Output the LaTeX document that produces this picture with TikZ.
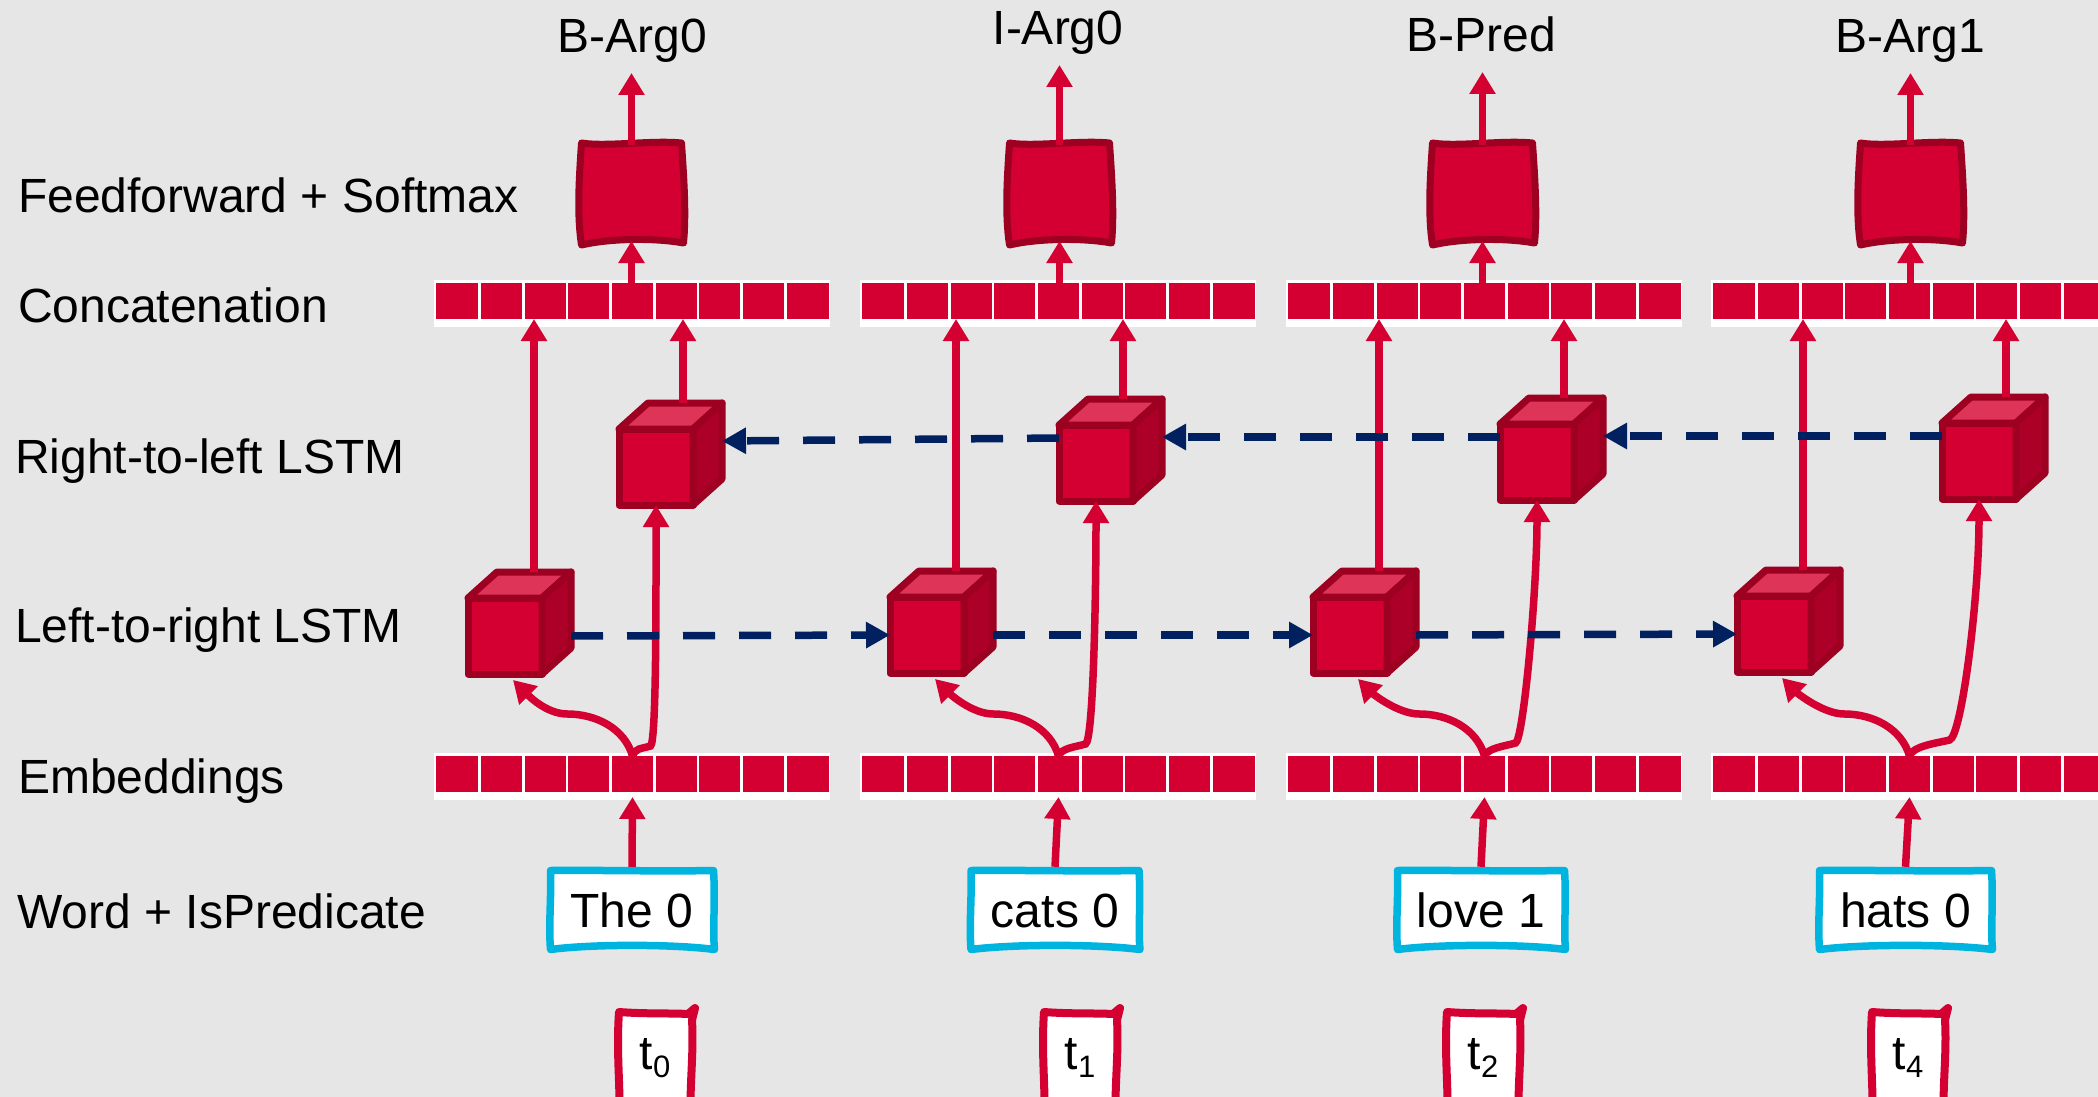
\documentclass[tikz,border=0pt]{standalone}
\usepackage{fontspec}
\setmainfont{Liberation Sans}
\usetikzlibrary{arrows.meta,calc}
\pgfdeclarelayer{behind}
\pgfsetlayers{behind,main}
\definecolor{bgc}{RGB}{230,230,230}
\definecolor{rfill}{RGB}{212,0,50}
\definecolor{rdark}{RGB}{158,0,34}
\definecolor{rside}{RGB}{172,0,40}
\definecolor{rtop}{RGB}{222,52,88}
\definecolor{navy}{RGB}{0,32,96}
\definecolor{cyanb}{RGB}{0,180,224}
\tikzset{
 redarrow/.style={draw=rfill, line width=7.5pt, -{Triangle[length=22pt,width=25pt]}},
 navyarrow/.style={draw=navy, line width=7.5pt, dash pattern=on 32pt off 24pt, -{Triangle[length=24pt,width=25pt]}},
 sidelbl/.style={font=\fontsize{48}{56}\selectfont, anchor=base west, inner sep=0pt},
 toplbl/.style={font=\fontsize{48}{56}\selectfont, anchor=base, inner sep=0pt},
 barcells/.style={fill=rfill, draw=none, minimum width=393pt, minimum height=36pt, inner sep=0pt, outer sep=0pt},
 cubefront/.style={fill=rfill, draw=rdark, line width=7pt, minimum width=74pt, minimum height=76pt, inner sep=0pt, outer sep=0pt, line join=round},
 cubetop/.style={fill=rtop, draw=rdark, line width=7pt, line join=round},
 cubeside/.style={fill=rside, draw=rdark, line width=7pt, line join=round},
 ffnode/.style={minimum width=100pt, minimum height=96pt, inner sep=0pt, outer sep=0pt},
 ffframe/.style={fill=rfill, draw=rdark, line width=7pt, line join=round},
 wordtext/.style={font=\fontsize{48}{56}\selectfont, text height=35pt, text depth=0pt, inner sep=0pt, minimum height=86pt},
 wordframe/.style={fill=white, draw=cyanb, line width=7.5pt, line join=round},
 ttext/.style={font=\fontsize{48}{56}\selectfont, inner sep=0pt},
 tframe/.style={fill=white, draw=rfill, line width=8pt, line join=round},
}
\newcommand\drawbar[3]{%
  \fill[white] (#2,#3-3) rectangle (#2+396,#3+44);
  \node[barcells] (#1) at (#2+198.5,#3+18) {};
  \foreach \k in {1,...,8} {\fill[white] (#2+2+\k*43.67-1.3,#3) rectangle ++(2.6,36);}
}
\newcommand\drawcube[3]{%
  \node[cubefront] (#1) at (#2,#3) {};
  \filldraw[cubetop] (#1.north west) -- (#1.north east) -- ++(29,-26) -- ($(#1.north west)+(29,-26)$) -- cycle;
  \filldraw[cubeside] (#1.north east) -- (#1.south east) -- ++(29,-26) -- ($(#1.north east)+(29,-26)$) -- cycle;
}
\newcommand\ffbox[3]{%
  \node[ffnode] (#1) at (#2,#3) {};
  \filldraw[ffframe, shift={(#1.center)}] (-50,-50) .. controls (-25,-46) and (20,-53) .. (50,-50)
    .. controls (52,-20) and (55,20) .. (52,50) .. controls (25,45) and (-20,45) .. (-50,52)
    .. controls (-55,20) and (-52,-20) .. cycle;
}
\newcommand\wordbox[4]{%
  \node[wordtext] (#1) at (#2,910) {#3};
  \begin{pgfonlayer}{behind}
  \filldraw[wordframe, shift={(#1.center)}] (-#4,-39.5) .. controls (-#4/3,-40) and (#4/3,-38.5) .. (#4,-39.5)
    .. controls (#4+2,-10) and (#4-1,20) .. (#4+1,39.5) .. controls (#4/2,34) and (-#4/2,34) .. (-#4,39.5)
    .. controls (-#4-2,15) and (-#4+1,-15) .. cycle;
  \end{pgfonlayer}
}
\newcommand\tbox[3]{%
  \node[ttext] (#1) at (#2,1058) {t\raisebox{-8pt}{\fontsize{31}{31}\selectfont #3}};
  \begin{pgfonlayer}{behind}
  \filldraw[tframe, shift={(#2,1060)}] (-36,-48) .. controls (-10,-46) and (15,-47) .. (33,-46) -- (40,-52) -- (37,-40)
    .. controls (39,-5) and (34,30) .. (36,60) -- (-36,60) .. controls (-34,30) and (-39,-5) .. cycle;
  \end{pgfonlayer}
}
\begin{document}
\begin{tikzpicture}[x=1pt,y=-1pt]
\useasboundingbox (0,0) rectangle (2098,1097);
\begin{pgfonlayer}{behind}
\fill[bgc] (0,0) rectangle (2098,1097);
\end{pgfonlayer}

% side labels
\node[sidelbl] (s1) at (18,212) {Feedforward + Softmax};
\node[sidelbl] (s2) at (18,322) {Concatenation};
\node[sidelbl] (s3) at (15,473) {Right-to-left LSTM};
\node[sidelbl] (s4) at (15,642) {Left-to-right LSTM};
\node[sidelbl] (s5) at (18,793) {Embeddings};
\node[sidelbl] (s6) at (17,928) {Word + IsPredicate};

% bars
\drawbar{c1}{434}{283}
\drawbar{c2}{860}{283}
\drawbar{c3}{1286}{283}
\drawbar{c4}{1711}{283}
\drawbar{e1}{434}{756}
\drawbar{e2}{860}{756}
\drawbar{e3}{1286}{756}
\drawbar{e4}{1711}{756}

% feedforward boxes
\ffbox{f1}{631.5}{193}
\ffbox{f2}{1059.5}{193}
\ffbox{f3}{1482.5}{193}
\ffbox{f4}{1910.5}{193}

% output labels
\node[toplbl] (o1) at (632,53) {B-Arg0};
\node[toplbl] (o2) at (1058,45) {I-Arg0};
\node[toplbl] (o3) at (1481,52) {B-Pred};
\node[toplbl] (o4) at (1910,53) {B-Arg1};

% cubes
\drawcube{l1}{505}{636}
\drawcube{l2}{927}{635}
\drawcube{l3}{1350}{635}
\drawcube{l4}{1774}{634}
\drawcube{r1}{656}{467}
\drawcube{r2}{1096}{463}
\drawcube{r3}{1537}{462}
\drawcube{r4}{1979}{461}

% word boxes
\wordbox{w1}{632}{The 0}{81.5}
\wordbox{w2}{1055}{cats 0}{84}
\wordbox{w3}{1481}{love 1}{83.5}
\wordbox{w4}{1905.5}{hats 0}{86}

% time boxes
\tbox{tb0}{655}{0}
\tbox{tb1}{1080}{1}
\tbox{tb2}{1483}{2}
\tbox{tb4}{1908}{4}

% red arrows
\foreach \i in {1,...,4} {
  \draw[redarrow] (w\i.north) -- ($(e\i.south)+(0,5)$);
  \draw[redarrow] (c\i.north -| f\i.south) -- (f\i.south);
  \draw[redarrow] (f\i.north) -- ($(f\i.north |- o\i.base)+(0,20)$);
  \draw[redarrow] ($(l\i.north)+(29,-26)$) -- ($(c\i.south -| l\i.north)+(29,0)$);
  \draw[redarrow] ($(r\i.north)+(27,-26)$) -- ($(c\i.south -| r\i.north)+(27,0)$);
  \draw[redarrow] (e\i.north) .. controls +(-8,-28) and +(28,0) .. ++(-65,-42)
     .. controls +(-22,0) and +(14,14) .. ($(l\i.south)+(8,6)$);
}
\draw[redarrow] (e1.north) .. controls +(3,-8) and +(-10,3) .. ++(18,-10) .. controls +(6,-3) and +(0,90) .. (r1.south);
\draw[redarrow] (e2.north) .. controls +(3,-8) and +(-10,3) .. ++(27,-12) .. controls +(8,-3) and +(0,90) .. (r2.south);
\draw[redarrow] (e3.north) .. controls +(3,-8) and +(-10,3) .. ++(31,-13) .. controls +(8,-3) and +(0,90) .. (r3.south);
\draw[redarrow] (e4.north) .. controls +(3,-10) and +(-12,3) .. ++(40,-16) .. controls +(12,-3) and +(0,100) .. (r4.south);

% navy dashed recurrent arrows
\draw[navyarrow] ($(l1.east)+(29,0)$) -- (l2.west);
\draw[navyarrow] ($(l2.east)+(29,0)$) -- (l3.west);
\draw[navyarrow] ($(l3.east)+(29,0)$) -- (l4.west);
\draw[navyarrow] ($(r4.north west)+(0,13)$) -- ($(r3.north east)+(29,12)$);
\draw[navyarrow] ($(r3.north west)+(0,13)$) -- ($(r2.north east)+(29,12)$);
\draw[navyarrow] ($(r2.north west)+(0,13)$) -- ($(r1.north east)+(29,12)$);
\end{tikzpicture}
\end{document}
